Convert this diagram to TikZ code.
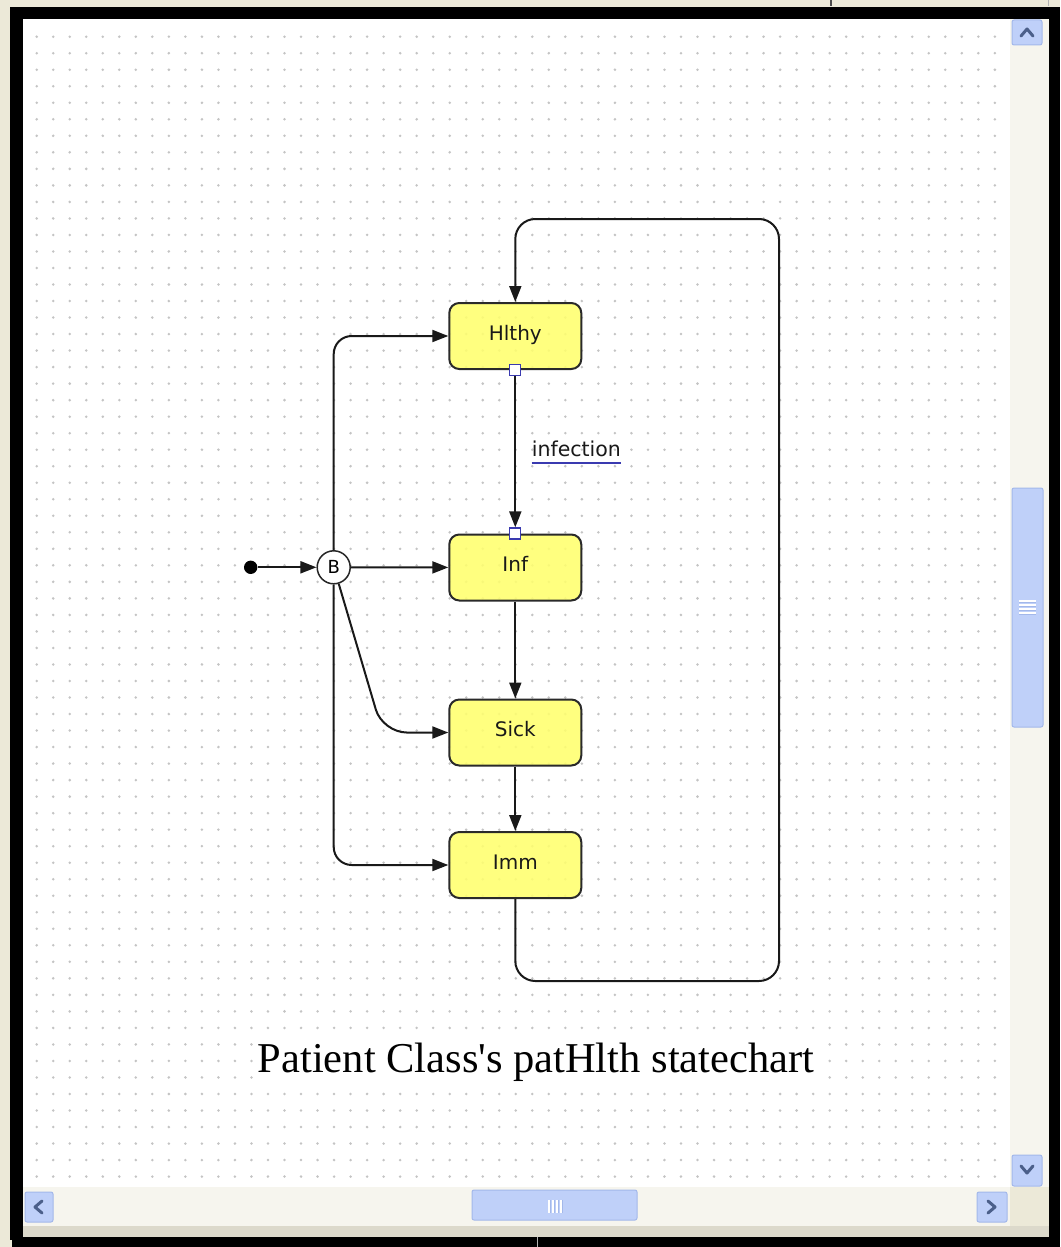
\documentclass[tikz,border=0pt]{standalone}
\usepackage{fontspec}
\newfontfamily\uifont{DejaVu Sans}
\newfontfamily\capfont{Liberation Serif}[Ligatures=TeXOff]
\usetikzlibrary{arrows.meta,calc}
\definecolor{winbeige}{HTML}{ECE9D8}
\definecolor{trackc}{HTML}{F6F5EE}
\definecolor{btnfill}{HTML}{BFD0F9}
\definecolor{btnedge}{HTML}{A3B8EA}
\definecolor{glyphc}{HTML}{4B5F8A}
\definecolor{dotc}{HTML}{C4C4C4}
\definecolor{stateyel}{HTML}{FFFF6E}
\definecolor{edgec}{HTML}{2A2A2A}
\definecolor{portc}{HTML}{3A3AB0}
\begin{document}
\begin{tikzpicture}[x=1pt,y=-1pt,
  statebox/.style={draw=edgec, line width=2pt, fill=stateyel, fill opacity=0.88, text opacity=1,
    rounded corners=10pt, minimum width=132pt, minimum height=66pt, inner sep=0pt,
    font=\uifont\fontsize{20}{24}\selectfont, text=black!90, text height=12pt, text depth=3.4pt},
  conn/.style={draw=black!90, line width=2pt, -{Triangle[length=16pt,width=12pt]}},
  port/.style={draw=portc, fill=white, line width=1.3pt, minimum size=11pt, inner sep=0pt},
  btn/.style={draw=btnedge, fill=btnfill, rounded corners=2pt, line width=1pt},
  glyph/.style={draw=glyphc, line width=3pt, line cap=round, line join=round},
]
\useasboundingbox (0,0) rectangle (1060,1247);
% window chrome
\fill[winbeige] (0,0) rectangle (1060,1247);
\draw[black!70, line width=1.2pt] (831,0) -- (831,6);
\draw[gray!60, line width=1pt] (1048,0) -- (1048,6);
\fill[black] (10,7) rectangle (1060,1247);
\fill[winbeige] (0,1240) rectangle (12,1247);
\fill[white] (23,19) rectangle (1010,1187);
% dot grid
\foreach \i in {0,...,58}{
  \foreach \j in {0,...,69}{
    \fill[dotc] (36.7+16.52*\i, 36.7+16.52*\j) circle (1.4);
  }
}
% scrollbars
\fill[trackc] (1010,19) rectangle (1049,1187);
\fill[trackc] (23,1187) rectangle (1010,1226);
\fill[winbeige] (1010,1187) rectangle (1049,1226);
\fill[winbeige!85!gray] (23,1226) rectangle (1049,1237);
\draw[gray!60, line width=1pt] (537,1237) -- (537,1247);
\draw[btn] (1012,20) rectangle (1042,45);
\draw[glyph] (1021,36) -- (1027,29) -- (1033,36);
\draw[btn] (1012,1155) rectangle (1042,1186);
\draw[glyph] (1021,1166) -- (1027,1173) -- (1033,1166);
\draw[btn] (25,1192) rectangle (53,1222);
\draw[glyph] (42,1201) -- (35,1207) -- (42,1213);
\draw[btn] (977,1192) rectangle (1007,1222);
\draw[glyph] (988,1201) -- (995,1207) -- (988,1213);
\draw[btn] (1012,488) rectangle (1043,727);
\foreach \k in {0,1,2,3}{
  \draw[white, line width=1.2pt] (1019,601+4*\k) -- (1036,601+4*\k);
  \draw[btnedge, line width=1pt] (1019,602.5+4*\k) -- (1036,602.5+4*\k);
}
\draw[btn] (472,1190) rectangle (637,1220);
\foreach \k in {0,1,2,3}{
  \draw[white, line width=1.2pt] (549+4*\k,1200) -- (549+4*\k,1213);
  \draw[btnedge, line width=1pt] (550.5+4*\k,1200) -- (550.5+4*\k,1213);
}
% states
\node[statebox] (Hlthy) at (515.3,336) {Hlthy};
\node[statebox] (Inf) at (515.3,567.5) {Inf};
\node[statebox] (Sick) at (515.3,732.5) {Sick};
\node[statebox] (Imm) at (515.3,865) {Imm};
\node[circle, fill=black, minimum size=13.4pt, inner sep=0pt] (init) at (250.7,567.3) {};
\node[circle, draw=black!85, line width=1.5pt, fill=white, minimum size=33pt, inner sep=0pt,
  font=\uifont\fontsize{18}{20}\selectfont] (B) at (333.7,567.3) {B};
\node[port] (pA) at (Hlthy.south) {};
\node[port] (pB) at (Inf.north) {};
% connectors
\draw[conn] (init) -- (B);
\draw[conn] (B) -- (Inf);
\draw[conn, rounded corners=18pt] (B.north) |- (Hlthy.west);
\draw[conn, rounded corners=18pt] (B.south) |- (Imm.west);
\coordinate (kS) at (382.6,732.5);
\draw[conn, rounded corners=24pt] (B.-73.5) -- (kS) -- (Sick.west);
\draw[conn] (pA) -- (pB);
\draw[conn] (Inf) -- (Sick);
\draw[conn] (Sick) -- (Imm);
\coordinate (c1) at (515.3,981);
\coordinate (c2) at (779,981);
\coordinate (c3) at (779,219);
\coordinate (c4) at (515.3,219);
\draw[conn, rounded corners=20pt] (Imm.south) -- (c1) -- (c2) -- (c3) -- (c4) -- (Hlthy.north);
% transition label
\node[anchor=base west, inner sep=0pt, font=\uifont\fontsize{20.5}{24}\selectfont, text=black!90] (lbl) at (531.7,456) {infection};
\draw[portc, line width=1.8pt] ($(lbl.base west)+(0,7)$) -- ($(lbl.base east)+(0,7)$);
% caption
\node[fill=white, inner sep=4pt, anchor=base, font=\capfont\fontsize{42.5}{50}\selectfont] (cap) at (536,1072) {Patient Class's patHlth statechart};
\end{tikzpicture}
\end{document}
